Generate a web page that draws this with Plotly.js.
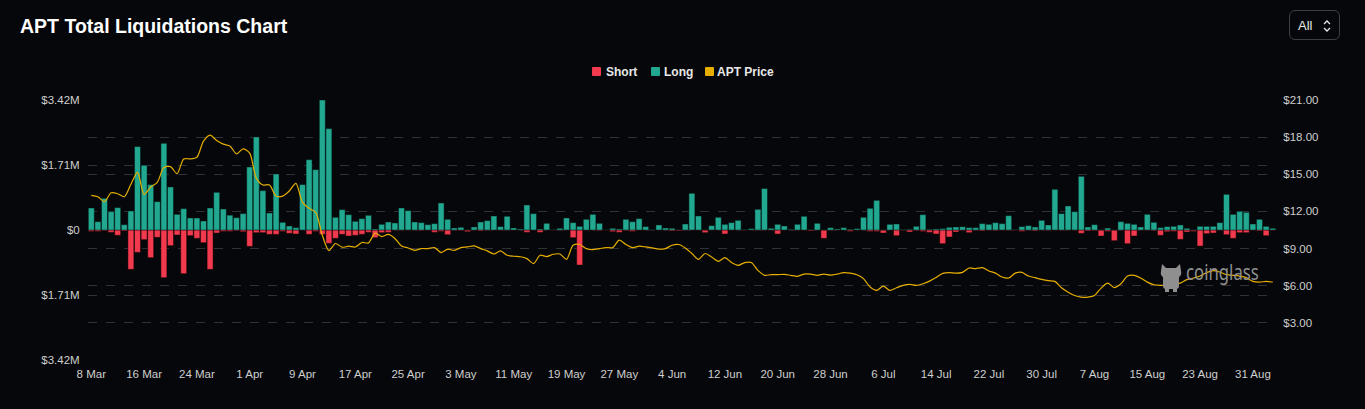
<!DOCTYPE html>
<html>
<head>
<meta charset="utf-8">
<script src="https://cdn.plot.ly/plotly-3.0.1.min.js"></script>
<style>
  html, body { margin:0; padding:0; background:#06070a; width:1365px; height:409px; overflow:hidden; font-family:"Liberation Sans", Arial, sans-serif; }
  #chart { position:absolute; left:0; top:0; width:1365px; height:409px; }
  .legend { position:absolute; top:65px; left:0; height:14px; font-size:12px; font-weight:bold; color:#e8e8e8; }
  .legend span.sw { position:absolute; top:2px; width:9px; height:9px; border-radius:1px; }
  .legend span.tx { position:absolute; top:0; white-space:nowrap; }
  #allbtn { position:absolute; left:1289px; top:10px; width:51px; height:30px; box-sizing:border-box; border:1px solid #3c3f45; border-radius:6px; color:#e8e8e8; font-size:13px; }
  #allbtn .t { position:absolute; left:8px; top:7px; }
  #allbtn svg { position:absolute; left:32px; top:8px; }
  #wm { position:absolute; left:1159px; top:259px; color:#8f8f8f; font-family:"Noto Sans", "Open Sans", sans-serif; pointer-events:none; }
  #wm svg { position:absolute; left:0; top:3px; }
  #wm .tx { position:absolute; left:27px; top:0px; font-size:22px; line-height:24px; white-space:nowrap; transform:scaleX(0.76); transform-origin:0 0; }
</style>
</head>
<body>
<div id="chart"></div>
<div class="legend">
  <span class="sw" style="left:592px;background:#f23a4f"></span><span class="tx" style="left:606px">Short</span>
  <span class="sw" style="left:651px;background:#22a891"></span><span class="tx" style="left:664px">Long</span>
  <span class="sw" style="left:705px;background:#e6ae00"></span><span class="tx" style="left:717px">APT Price</span>
</div>
<div id="allbtn"><span class="t">All</span>
  <svg width="10" height="14" viewBox="0 0 10 14"><path d="M2 5 L5 2 L8 5" fill="none" stroke="#e8e8e8" stroke-width="1.3"/><path d="M2 9 L5 12 L8 9" fill="none" stroke="#e8e8e8" stroke-width="1.3"/></svg>
</div>
<div id="wm">
  <svg width="24" height="30" viewBox="0 0 24 30">
    <path d="M3 2 L7 6 L17 6 L21 2 L22 9 Q23 13 20 15 L20 24 Q20 27 17 27 L7 27 Q4 27 4 24 L4 15 Q1 13 2 9 Z" fill="#8f8f8f"/>
    <rect x="6" y="26" width="4" height="4" fill="#8f8f8f"/><rect x="14" y="26" width="4" height="4" fill="#8f8f8f"/>
  </svg>
  <div class="tx">coinglass</div>
</div>
<script>
// ---- data (daily, 2024-03-08 .. 2024-09-03) ----
const startDate = '2024-03-08';
// long liquidations, thousands of USD
const longK = [579,219,833,482,588,140,500,2193,1701,1193,745,2280,1131,412,561,316,316,237,579,991,
552,390,324,430,1657,2447,1035,447,1473,202,105,61,1193,1850,1587,3420,2666,333,535,403,
228,298,386,26,149,210,184,579,509,210,193,140,167,710,281,53,70,5,79,210,
246,368,88,360,53,26,658,430,26,175,9,44,316,193,96,281,412,175,5,44,
26,281,219,298,88,9,132,53,44,5,158,965,368,5,114,333,149,193,254,9,
35,544,1090,44,149,105,18,149,360,9,175,5,61,26,61,18,35,333,570,780,
5,149,158,9,18,96,403,18,26,35,70,79,85,61,61,167,149,193,167,377,
9,88,114,79,254,132,1070,430,631,482,1412,79,140,5,50,5,219,175,149,79,
412,202,61,88,96,132,44,5,96,96,96,193,938,412,491,465,158,281,96,44];
// short liquidations, thousands of USD (drawn below zero)
const shortK = [35,35,18,61,140,26,1035,588,254,728,193,1254,412,132,1149,149,219,333,1035,79,
35,35,18,44,430,70,70,114,114,35,88,105,5,114,35,114,351,219,114,158,
140,114,61,202,70,61,5,9,5,5,18,9,61,35,123,9,18,44,5,26,
5,5,9,5,5,5,61,5,61,5,9,5,5,202,921,9,5,18,5,44,
61,18,35,5,5,5,5,9,26,26,5,5,5,70,5,5,105,5,5,9,
5,5,9,9,105,5,9,5,9,26,5,219,5,5,5,35,5,5,35,35,
79,5,149,9,53,18,35,61,105,360,184,53,18,70,9,26,9,18,9,9,
9,35,9,26,9,9,9,9,9,9,88,26,18,158,35,281,9,360,158,9,
9,18,140,44,35,246,53,35,421,96,79,9,123,219,70,70,9,26,149,9];
// APT price, USD
const price = [13.30,13.19,12.78,13.51,13.43,13.19,14.19,15.16,13.38,13.97,14.35,15.54,15.62,15.05,16.24,16.24,16.38,17.68,18.17,17.73,
17.44,17.28,16.65,17.06,16.71,14.68,14.14,14.14,13.24,13.24,13.65,14.27,12.73,12.25,11.92,10.08,8.84,9.41,9.11,9.19,
9.13,9.49,9.46,10.25,9.97,10.14,9.81,9.21,9.05,8.86,9.00,9.00,9.08,8.68,8.95,8.86,9.08,9.13,9.21,9.00,
8.81,8.56,8.81,8.46,8.38,8.34,8.19,7.79,8.46,8.35,8.54,8.56,8.13,9.27,9.33,9.00,8.92,9.00,9.08,9.08,
9.68,9.33,9.08,9.19,9.13,9.05,8.95,9.00,9.27,9.33,9.05,8.60,8.13,8.60,8.32,7.97,8.27,7.87,7.65,7.87,
7.87,7.24,6.84,6.89,6.89,6.92,6.84,6.76,6.94,6.93,6.84,6.94,6.86,6.94,7.06,7.02,6.89,6.57,5.89,5.62,
5.97,5.62,5.84,6.03,6.11,6.03,6.16,6.37,6.67,7.00,7.06,7.01,7.08,7.43,7.38,7.46,7.19,7.02,6.70,6.62,
7.02,7.08,6.78,6.65,6.51,6.41,6.35,5.84,5.48,5.21,5.08,5.08,5.21,5.81,6.21,5.84,6.16,6.78,6.84,6.62,
6.29,6.08,6.03,6.03,6.11,6.21,6.49,6.62,6.78,7.06,7.22,7.10,6.89,6.84,6.78,6.65,6.35,6.29,6.35,6.29];
// x tick labels
const tickDates = ['2024-03-08','2024-03-16','2024-03-24','2024-04-01','2024-04-09','2024-04-17','2024-04-25','2024-05-03',
'2024-05-11','2024-05-19','2024-05-27','2024-06-04','2024-06-12','2024-06-20','2024-06-28','2024-07-06','2024-07-14',
'2024-07-22','2024-07-30','2024-08-07','2024-08-15','2024-08-23','2024-08-31'];
const tickLabels = ['8 Mar','16 Mar','24 Mar','1 Apr','9 Apr','17 Apr','25 Apr','3 May','11 May','19 May','27 May',
'4 Jun','12 Jun','20 Jun','28 Jun','6 Jul','14 Jul','22 Jul','30 Jul','7 Aug','15 Aug','23 Aug','31 Aug'];
const leftTickVals = [-3.42e6,-1.71e6,0,1.71e6,3.42e6];
const leftTickText = ['$3.42M','$1.71M','$0','$1.71M','$3.42M'];
const rightTickVals = [3,6,9,12,15,18,21];
const rightTickText = ['$3.00','$6.00','$9.00','$12.00','$15.00','$18.00','$21.00'];

// build the category dates
const dates = [];
{
  const d0 = new Date(startDate + 'T00:00:00Z');
  for (let i = 0; i < longK.length; i++) {
    const d = new Date(d0.getTime() + i * 86400000);
    dates.push(d.toISOString().slice(0,10));
  }
}

const gridStyle = { showgrid:true, gridcolor:'#303238', griddash:'dash', gridwidth:1, zeroline:false, showline:false };
const tickFont = {size:11.5, color:'#cfcfcf'};

const traces = [
  { type:'bar', name:'Short', x:dates, y:shortK.map(v => -v*1000), marker:{color:'#f23a4f', line:{color:'rgba(20,0,0,0.45)', width:1}}, yaxis:'y', hoverinfo:'skip' },
  { type:'bar', name:'Long', x:dates, y:longK.map(v => v*1000), marker:{color:'#22a891', line:{color:'rgba(0,20,15,0.45)', width:1}}, yaxis:'y', hoverinfo:'skip' },
  { type:'scatter', mode:'lines', name:'APT Price', x:dates, y:price, yaxis:'y2', line:{color:'#e6ae00', width:1.2, shape:'spline', smoothing:0.8}, hoverinfo:'skip' }
];

const layout = {
  width:1365, height:409,
  paper_bgcolor:'#06070a', plot_bgcolor:'#06070a',
  margin:{l:88, r:89, t:100, b:49},
  showlegend:false,
  barmode:'relative', bargap:0.1,
  font:{family:'"Liberation Sans", Arial, sans-serif', color:'#cfcfcf', size:11.5},
  title:{ text:'APT Total Liquidations Chart', font:{size:19.5, color:'#ffffff', weight:700, family:'"Liberation Sans", Arial, sans-serif'},
          xref:'container', yref:'container', x:20/1365, xanchor:'left', y:1-26/409, yanchor:'middle' },
  xaxis:{ type:'category', range:[-0.5, longK.length-0.5], tickmode:'array', tickvals:tickDates, ticktext:tickLabels,
          showgrid:false, zeroline:false, showline:false, ticks:'outside', ticklen:3, tickcolor:'rgba(0,0,0,0)',
          tickfont:tickFont },
  yaxis:Object.assign({ range:[-3.42e6, 3.42e6], tickmode:'array', tickvals:leftTickVals, ticktext:leftTickText,
          tickfont:tickFont, ticks:'outside', ticklen:5, tickcolor:'rgba(0,0,0,0)' }, gridStyle),
  yaxis2:Object.assign({ overlaying:'y', side:'right', range:[0,21], tickmode:'array', tickvals:rightTickVals, ticktext:rightTickText,
          tickfont:tickFont, ticks:'outside', ticklen:4, tickcolor:'rgba(0,0,0,0)' }, gridStyle)
};

Plotly.newPlot('chart', traces, layout, {staticPlot:true, displayModeBar:false});
</script>
</body>
</html>
